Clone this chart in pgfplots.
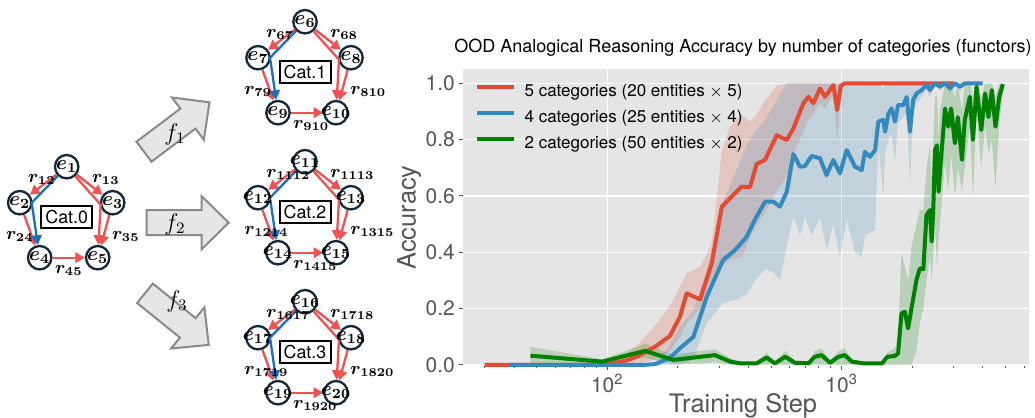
\documentclass[border=0pt]{standalone}
\usepackage[no-math]{fontspec}
\setmainfont{TeX Gyre Heros}
\usepackage{pgfplots}
\pgfplotsset{compat=1.18}
\usepackage{pgfplotstable}
\usepgfplotslibrary{fillbetween}
\usetikzlibrary{arrows.meta}

\definecolor{cR}{HTML}{E24A33}
\definecolor{cB}{HTML}{348ABD}
\definecolor{cG}{HTML}{008000}
\definecolor{bg}{HTML}{E5E5E5}
\definecolor{tk}{HTML}{555555}
\definecolor{er}{RGB}{240,82,82}
\definecolor{eb}{RGB}{28,110,192}
\definecolor{nv}{HTML}{14283A}
\definecolor{ag}{HTML}{E6E6E6}
\definecolor{ab}{HTML}{8A8A8A}

\pgfplotstableread{
x y lo hi
30 0 0 0
40 0 0 0
55 0 0 0
75 0 0 0
100 0.003 0 0.01
115 0.012 0 0.03
125 0.02 0 0.05
138 0.035 0.005 0.08
160 0.065 0.02 0.14
185 0.103 0.05 0.21
204 0.171 0.10 0.278
218 0.254 0.148 0.326
249 0.233 0.20 0.349
279 0.361 0.30 0.43
308 0.562 0.35 0.76
334 0.592 0.373 0.846
374 0.633 0.384 0.89
406 0.631 0.45 0.864
434 0.714 0.50 0.89
471 0.728 0.54 0.94
528 0.816 0.62 0.99
583 0.799 0.67 1.0
622 0.840 0.75 1.0
686 0.929 0.83 1.0
721 0.952 0.87 1.0
757 0.929 0.89 1.0
808 0.982 0.93 1.0
849 0.952 0.91 1.0
921 0.994 0.96 1.0
957 0.905 0.80 1.0
990 0.99 0.97 1.0
1030 1.0 1.0 1.0
1500 1.0 1.0 1.0
2000 1.0 1.0 1.0
3000 1.0 1.0 1.0
}\tR

\pgfplotstableread{
x y lo hi
38 0 0 0
60 0 0 0
100 0 0 0
140 0 0 0
160 0.003 0 0.01
185 0.025 0 0.07
204 0.059 0 0.136
233 0.10 0.02 0.195
265 0.24 0.148 0.33
312 0.373 0.22 0.58
351 0.408 0.23 0.68
393 0.455 0.25 0.78
427 0.517 0.30 0.83
471 0.580 0.34 0.87
511 0.580 0.33 0.92
545 0.562 0.30 0.96
583 0.615 0.42 1.0
622 0.749 0.53 1.0
664 0.704 0.46 1.0
697 0.706 0.526 1.0
744 0.742 0.46 1.0
808 0.734 0.526 1.0
862 0.674 0.408 1.0
921 0.728 0.50 1.0
983 0.680 0.384 1.0
1050 0.763 0.515 1.0
1140 0.704 0.40 1.0
1217 0.692 0.384 1.0
1256 0.757 0.46 1.0
1321 0.739 0.47 1.0
1388 0.763 0.48 1.0
1433 0.864 0.78 1.0
1505 0.870 0.60 0.98
1532 0.828 0.75 1.0
1582 0.893 0.80 1.0
1633 0.911 0.82 1.0
1687 0.864 0.72 1.0
1740 0.923 0.86 1.0
1833 0.923 0.88 1.0
1893 0.952 0.90 1.0
1955 0.828 0.645 1.0
2018 0.941 0.90 1.0
2085 0.964 0.93 1.0
2193 0.976 0.95 1.0
2300 0.994 0.98 1.0
2380 0.976 0.95 1.0
2500 1.0 1.0 1.0
2624 0.988 0.97 1.0
2760 1.0 1.0 1.0
2896 0.982 0.96 1.0
3040 1.0 1.0 1.0
3200 0.988 0.97 1.0
3350 1.0 1.0 1.0
3520 1.0 1.0 1.0
3990 1.0 1.0 1.0
}\tB

\pgfplotstableread{
x y lo hi
47 0.033 0.0 0.065
95 0.012 0.005 0.02
145 0.05 0.025 0.075
191 0.018 0.005 0.035
249 0.029 0.005 0.05
288 0.035 0.01 0.055
334 0.012 0.0 0.025
368 0.006 0 0.01
433 0.006 0 0.01
478 0.026 0.0 0.045
519 0.006 0 0.01
574 0.029 0 0.05
632 0.008 0 0.015
721 0.006 0 0.01
768 0.029 0 0.05
820 0.035 0.0 0.06
892 0.008 0 0.015
968 0.029 0 0.05
1030 0.035 0 0.06
1104 0.012 0 0.02
1236 0.006 0 0.01
1488 0.006 0 0.01
1564 0.029 0 0.045
1687 0.032 0 0.06
1740 0.041 0 0.10
1799 0.183 0.0 0.40
1859 0.189 0.0 0.35
1920 0.130 0.0 0.30
1985 0.201 0.0 0.42
2085 0.302 0.05 0.50
2155 0.343 0.15 0.55
2230 0.34 0.20 0.55
2300 0.532 0.30 0.70
2380 0.550 0.38 0.78
2420 0.438 0.30 0.65
2460 0.56 0.40 0.80
2500 0.763 0.50 0.95
2550 0.78 0.35 0.96
2590 0.615 0.45 0.80
2624 0.68 0.50 0.90
2760 0.911 0.72 1.0
2850 0.846 0.62 1.0
2930 0.911 0.75 1.0
3040 0.787 0.60 0.95
3130 0.88 0.70 1.0
3260 0.728 0.62 0.90
3350 0.87 0.70 1.0
3520 0.952 0.85 1.0
3630 0.799 0.60 0.95
3760 0.988 0.90 1.0
3940 0.834 0.70 0.95
4090 0.964 0.85 1.0
4230 0.88 0.75 1.0
4370 0.976 0.80 1.0
4530 0.846 0.63 0.95
4700 0.952 0.85 1.0
4870 0.997 0.97 1.0
}\tG

\tikzset{
  enode/.style={circle, draw=nv, fill=white, line width=1.15pt, minimum size=11.7pt, inner sep=0pt},
  elab/.style={font={\boldmath\fontsize{9.6}{10}\selectfont}, inner sep=0pt},
  rlab/.style={font={\boldmath\fontsize{8.8}{10}\selectfont}, inner sep=0pt, anchor=west},
  ra/.style={draw=er, line width=1.15pt, -{Triangle[length=4.8pt,width=5.2pt]}},
  ba/.style={draw=eb, line width=1.15pt, -{Triangle[length=4.8pt,width=5.2pt]}},
  catbox/.style={draw=black, fill=white, line width=1pt, minimum width=25.5pt, minimum height=11pt, inner sep=0pt, font=\fontsize{8.9}{10}\selectfont}
}

% #1,#2 position; #3-#7 entity indices; #8 category; #9 top-right label
\newcommand{\catgraph}[9]{%
\begin{scope}[shift={(#1,#2)}]
\node[enode] (gT) at (0,0) {};
\node[enode] (gL) at (-47,36) {};
\node[enode] (gR) at (46,36) {};
\node[enode] (gBL) at (-27,91) {};
\node[enode] (gBR) at (31,91) {};
\draw[ra] (gT) -- (gL);
\draw[ra] (gT) -- (gR);
\draw[ra] (gT) -- (34,38) -- (gBR);
\draw[ra] (gL) -- (gBL);
\draw[ra] (gR) -- (gBR);
\draw[ra] (gBL) -- (gBR);
\draw[ba] (gT) -- (-35,36) -- (gBL);
\node[elab] at (0,0) {$e_{#3}$};
\node[elab] at (-47,36) {$e_{#4}$};
\node[elab] at (46,36) {$e_{#5}$};
\node[elab] at (-27,91) {$e_{#6}$};
\node[elab] at (31,91) {$e_{#7}$};
\node[catbox] at (0,50.5) {Cat.#8};
\node[rlab] at (-39,13) {$r_{#3#4}$};
\node[rlab] at (25,13) {$r_{#9}$};
\node[rlab] at (-61,70) {$r_{#4#6}$};
\node[rlab] at (45,70) {$r_{#5#7}$};
\node[rlab] at (-12,103.5) {$r_{#6#7}$};
\end{scope}}

\newcommand{\blockarrow}[3]{%
\begin{scope}[shift={(#1,#2)}, rotate=#3]
\draw[fill=ag, draw=ab, line width=1pt, line join=miter] (0,-12.5) -- (55,-12.5) -- (55,-26.5) -- (82,0) -- (55,26.5) -- (55,12.5) -- (0,12.5) -- cycle;
\end{scope}}

\begin{document}
\begin{tikzpicture}
\begin{scope}[x=0.5pt,y=-0.5pt]
\path[use as bounding box] (0,0) rectangle (1035,418);
\catgraph{66.7}{166.7}{1}{2}{3}{4}{5}{0}{13}
\catgraph{305}{21.7}{6}{7}{8}{9}{10}{1}{68}
\catgraph{305}{161.7}{11}{12}{13}{14}{15}{2}{1113}
\catgraph{305}{301.7}{16}{17}{18}{19}{20}{3}{1718}
\blockarrow{144}{151.7}{37}
\blockarrow{146.7}{222.7}{0}
\blockarrow{145}{293.3}{-39}
\node[font=\fontsize{12}{14}\selectfont] at (175,134) {$f_1$};
\node[font=\fontsize{12}{14}\selectfont] at (175,224) {$f_2$};
\node[font=\fontsize{12}{14}\selectfont] at (177,301) {$f_3$};
\end{scope}
\begin{axis}[
  at={(231.35pt,-183pt)}, anchor=south west,
  scale only axis, width=283.15pt, height=148.5pt,
  xmode=log, xmin=24.16, xmax=6295, ymin=-0.0036, ymax=1.0508,
  axis background/.style={fill=bg},
  axis line style={draw=none},
  tick align=outside, tick pos=left,
  major tick length=1.75pt, minor tick length=1.2pt,
  every tick/.style={tk, line width=0.5pt},
  grid=major, major grid style={white, line width=0.7pt},
  xtick={100,1000}, xticklabels={10\textsuperscript{2},10\textsuperscript{3}},
  minor xtick={30,40,50,60,70,80,90,200,300,400,500,600,700,800,900,2000,3000,4000,5000,6000},
  ytick={0,0.2,0.4,0.6,0.8,1.0},
  yticklabel style={/pgf/number format/fixed, /pgf/number format/fixed zerofill, /pgf/number format/precision=1, /pgf/number format/assume math mode=true, inner sep=0pt, xshift=-2pt},
  xticklabel style={inner sep=0pt, yshift=-2pt},
  ticklabel style={font=\fontsize{10.5}{12}\selectfont, text=tk},
  title={OOD Analogical Reasoning Accuracy by number of categories (functors)},
  title style={at={(axis description cs:0.495,1.0168)}, anchor=base, font=\fontsize{9}{11}\selectfont, inner sep=0pt},
  xlabel={Training Step},
  xlabel style={at={(axis description cs:0.495,-0.1549)}, anchor=base, font=\fontsize{12.7}{14}\selectfont, text=tk, inner sep=0pt},
  ylabel={Accuracy},
  ylabel style={at={(axis description cs:-0.0948,0.5)}, anchor=center, font=\fontsize{12.7}{14}\selectfont, text=tk, inner sep=0pt},
  legend cell align=left,
  legend image code/.code={\draw[#1, line width=2pt] (0pt,2.6pt) -- (18.3pt,2.6pt); \path (22.8pt,0pt);},
  legend style={at={(axis description cs:0.0217,0.951)}, anchor=north west, draw=none, fill=none, inner sep=0pt, outer sep=0pt, row sep=4.6pt, column sep=0pt, font=\fontsize{8.5}{10}\selectfont, nodes={inner sep=0pt, text height=6.5pt, text depth=1.9pt}},
]
\addplot[name path=rh, draw=none, forget plot] table[x=x,y=hi]{\tR};
\addplot[name path=rl, draw=none, forget plot] table[x=x,y=lo]{\tR};
\addplot[fill=cR, fill opacity=0.2, draw=none, forget plot] fill between[of=rh and rl];
\addplot[cR, line width=2pt, mark=none, line join=round] table[x=x,y=y]{\tR};
\addlegendentry{5 categories (20 entities $\times$ 5)}
\addplot[name path=bh, draw=none, forget plot] table[x=x,y=hi]{\tB};
\addplot[name path=bl, draw=none, forget plot] table[x=x,y=lo]{\tB};
\addplot[fill=cB, fill opacity=0.2, draw=none, forget plot] fill between[of=bh and bl];
\addplot[cB, line width=2pt, mark=none, line join=round] table[x=x,y=y]{\tB};
\addlegendentry{4 categories (25 entities $\times$ 4)}
\addplot[name path=gh, draw=none, forget plot] table[x=x,y=hi]{\tG};
\addplot[name path=gl, draw=none, forget plot] table[x=x,y=lo]{\tG};
\addplot[fill=cG, fill opacity=0.2, draw=none, forget plot] fill between[of=gh and gl];
\addplot[cG, line width=2pt, mark=none, line join=round] table[x=x,y=y]{\tG};
\addlegendentry{2 categories (50 entities $\times$ 2)}
\end{axis}
\end{tikzpicture}
\end{document}
